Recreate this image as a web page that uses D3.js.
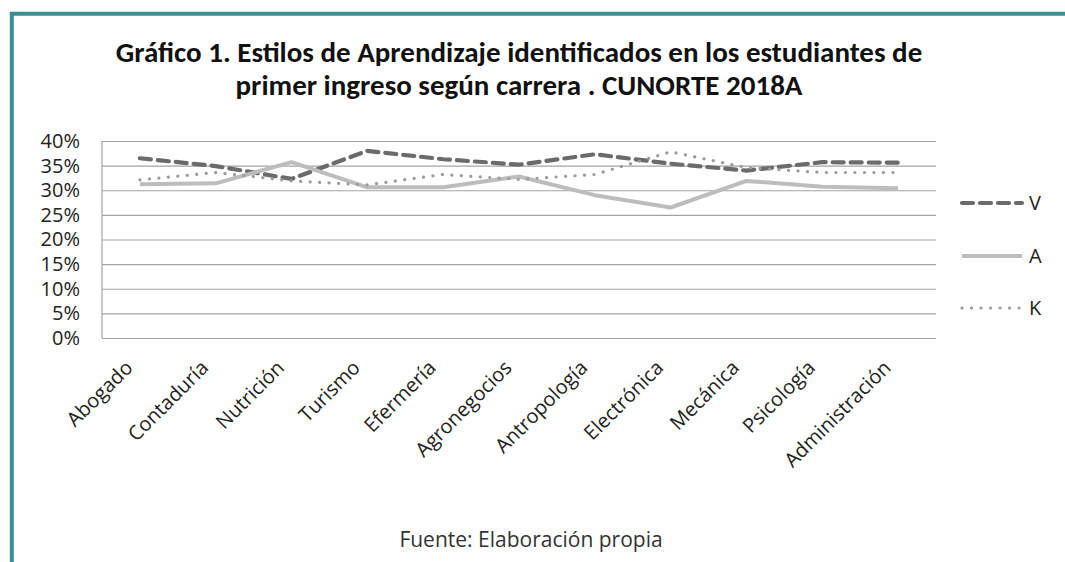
<!DOCTYPE html>
<html>
<head>
<meta charset="utf-8">
<script src="https://cdn.jsdelivr.net/npm/d3@7"></script>
<style>
  html, body { margin: 0; padding: 0; background: #fff; }
  svg { display: block; }
</style>
</head>
<body>
<div id="chart"></div>
<script>
const CARRERAS = ["Abogado", "Contaduría", "Nutrición", "Turismo", "Efermería", "Agronegocios",
  "Antropología", "Electrónica", "Mecánica", "Psicología", "Administración"];

const SERIE_V = [0.365, 0.349, 0.323, 0.380, 0.363, 0.352, 0.373, 0.354, 0.340, 0.357, 0.356];
const SERIE_A = [0.312, 0.314, 0.357, 0.306, 0.306, 0.328, 0.290, 0.265, 0.319, 0.307, 0.304];
const SERIE_K = [0.321, 0.336, 0.319, 0.311, 0.332, 0.322, 0.332, 0.378, 0.346, 0.336, 0.336];

const Y_TICKS = [0, 0.05, 0.10, 0.15, 0.20, 0.25, 0.30, 0.35, 0.40];

const SERIES = [
  { name: "V", values: SERIE_V, color: "#6b6b6b", width: 4.2, dash: "11 7", cap: "round" },
  { name: "A", values: SERIE_A, color: "#bdbdbd", width: 4, dash: null, cap: "butt" },
  { name: "K", values: SERIE_K, color: "#9c9c9c", width: 3.2, dash: "0.1 9.4", cap: "round" }
];

const W = 1065, H = 562;
const plot = { left: 102, right: 936, top: 141, bottom: 338 };

const svg = d3.select("#chart").append("svg")
  .attr("width", W)
  .attr("height", H);

// marco verde azulado
svg.append("line")
  .attr("x1", 10).attr("x2", W).attr("y1", 13.7).attr("y2", 13.7)
  .attr("stroke", "#3b8f8f").attr("stroke-width", 4);
svg.append("line")
  .attr("x1", 11.8).attr("x2", 11.8).attr("y1", 12).attr("y2", H)
  .attr("stroke", "#3b8f8f").attr("stroke-width", 4);

// titulo
const titleFont = "Carlito, Calibri, Lato, sans-serif";
const title = svg.append("g")
  .attr("font-family", titleFont)
  .attr("font-weight", "bold")
  .attr("font-size", "29px")
  .attr("fill", "#111")
  .attr("text-anchor", "middle");
title.append("text")
  .attr("x", 519).attr("y", 62)
  .text("Gráfico 1. Estilos de Aprendizaje identificados en los estudiantes de");
title.append("text")
  .attr("x", 519).attr("y", 95)
  .text("primer ingreso según carrera . CUNORTE 2018A");

const labelFont = "'Open Sans', 'Noto Sans', sans-serif";

const x = d3.scalePoint()
  .domain(CARRERAS)
  .range([plot.left, plot.right])
  .padding(0.5);

const y = d3.scaleLinear()
  .domain([0, 0.4])
  .range([plot.bottom, plot.top]);

// lineas de cuadricula
svg.append("g")
  .attr("transform", `translate(${plot.left},0)`)
  .call(d3.axisLeft(y).tickValues(Y_TICKS).tickSize(-(plot.right - plot.left)).tickFormat(""))
  .call(g => g.select(".domain").remove())
  .call(g => g.selectAll("line").attr("stroke", "#a3a3a3").attr("stroke-width", 1.2));

// eje vertical
svg.append("line")
  .attr("x1", plot.left).attr("x2", plot.left)
  .attr("y1", plot.top).attr("y2", plot.bottom)
  .attr("stroke", "#a3a3a3").attr("stroke-width", 1.2);

// etiquetas eje Y
svg.append("g")
  .attr("transform", `translate(${plot.left},0)`)
  .call(d3.axisLeft(y).tickValues(Y_TICKS).tickSize(0).tickPadding(22).tickFormat(d3.format(".0%")))
  .call(g => g.select(".domain").remove())
  .call(g => g.selectAll("text")
    .attr("font-family", labelFont)
    .attr("font-size", "20px")
    .attr("fill", "#222"));

// etiquetas eje X
svg.append("g")
  .selectAll("text")
  .data(CARRERAS)
  .enter()
  .append("text")
  .attr("transform", d => `translate(${x(d) - 6},${plot.bottom + 31}) rotate(-45)`)
  .attr("text-anchor", "end")
  .attr("font-family", labelFont)
  .attr("font-size", "20px")
  .attr("fill", "#222")
  .text(d => d);

// series
const line = d3.line()
  .x((d, i) => x(CARRERAS[i]))
  .y(d => y(d));

svg.append("g")
  .selectAll("path")
  .data(SERIES)
  .enter()
  .append("path")
  .attr("d", d => line(d.values))
  .attr("fill", "none")
  .attr("stroke", d => d.color)
  .attr("stroke-width", d => d.width)
  .attr("stroke-linecap", d => d.cap)
  .attr("stroke-linejoin", "round")
  .attr("stroke-dasharray", d => d.dash);

// leyenda
const legendY = [203, 256, 308];
const legend = svg.append("g")
  .selectAll("g")
  .data(SERIES)
  .enter()
  .append("g")
  .attr("transform", (d, i) => `translate(0,${legendY[i]})`);

legend.append("line")
  .attr("x1", 962)
  .attr("x2", d => d.name === "K" ? 1019 : 1022)
  .attr("stroke", d => d.color)
  .attr("stroke-width", d => d.width)
  .attr("stroke-linecap", d => d.cap)
  .attr("stroke-dasharray", d => d.dash);

legend.append("text")
  .attr("x", 1029)
  .attr("dy", "0.36em")
  .attr("font-family", labelFont)
  .attr("font-size", "20px")
  .attr("fill", "#222")
  .text(d => d.name);

// fuente
svg.append("text")
  .attr("x", 531).attr("y", 547)
  .attr("text-anchor", "middle")
  .attr("font-family", labelFont)
  .attr("font-size", "21px")
  .attr("fill", "#333")
  .text("Fuente: Elaboración propia");
</script>
</body>
</html>
